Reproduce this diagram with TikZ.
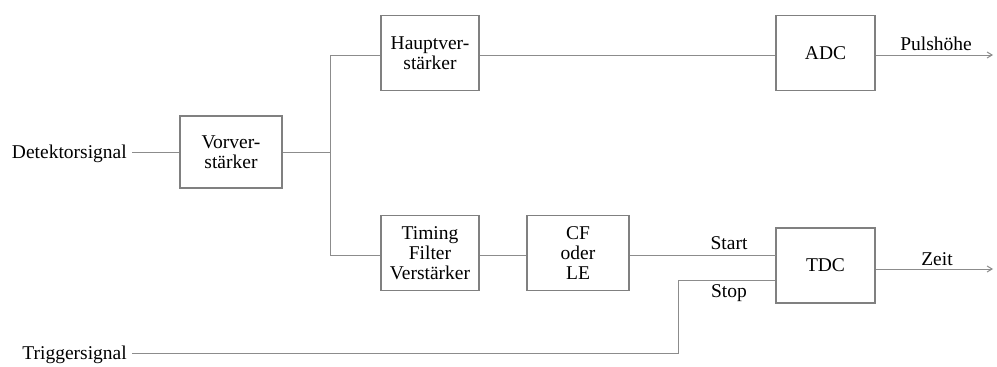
\documentclass[tikz,border=0pt]{standalone}
\usepackage{fontspec}
\setmainfont{Liberation Serif}
\usetikzlibrary{arrows.meta}
\begin{document}
\begin{tikzpicture}[x=1pt,y=-1pt,
  blk/.style={draw=black!50, line width=1.2pt, inner sep=0pt, align=center,
    font=\fontsize{19.5}{20}\selectfont},
  wire/.style={draw=black!45, line width=1pt},
  lbl/.style={font=\fontsize{19.5}{20}\selectfont, inner sep=0pt},
  outarrow/.style={wire, -{Straight Barb[length=5pt,width=6pt]}}]
\useasboundingbox (0,0) rectangle (997,367);
% boxes
\node[blk, minimum width=102pt, minimum height=72pt] (vor) at (231,152) {Vorver-\\stärker};
\node[blk, minimum width=98pt, minimum height=75pt] (haupt) at (430,53) {Hauptver-\\stärker};
\node[blk, minimum width=99pt, minimum height=75pt] (adc) at (825.5,53) {ADC};
\node[blk, minimum width=98pt, minimum height=75pt] (timing) at (430,253) {Timing\\Filter\\Verstärker};
\node[blk, minimum width=102pt, minimum height=75pt] (cf) at (578,253) {CF\\oder\\LE};
\node[blk, minimum width=99pt, minimum height=75pt] (tdc) at (825.5,265.5) {TDC};
% labels
\node[lbl, anchor=east] (det) at (127,154) {Detektorsignal};
\node[lbl, anchor=east] (trig) at (127,355) {Triggersignal};
\node[lbl] (puls) at (936,44) {Pulshöhe};
\node[lbl] (zeit) at (937,259) {Zeit};
\node[lbl] (start) at (729,243) {Start};
\node[lbl] (stop) at (729,293) {Stop};
% coordinates
\coordinate (detend) at (132,152);
\coordinate (trigend) at (132,353);
\coordinate (br) at (330,152);
\coordinate (bt) at (330,55);
\coordinate (bb) at (330,255);
\coordinate (stopc) at (678,280);
\coordinate (startc) at (776,255);
\coordinate (pend) at (993,55);
\coordinate (zend) at (993,269);
% wires
\draw[wire] (detend) -- (vor.west |- detend);
\draw[wire] (vor.east |- br) -- (br);
\draw[wire] (haupt.west |- bt) -- (bt) -- (bb) -- (timing.west |- bb);
\draw[wire] (haupt.east |- bt) -- (adc.west |- bt);
\draw[wire] (timing.east |- bb) -- (cf.west |- bb);
\draw[wire] (cf.east |- startc) -- (startc);
\draw[wire] (trigend) -| (stopc) -- (tdc.west |- stopc);
\draw[outarrow] (adc.east |- pend) -- (pend);
\draw[outarrow] (tdc.east |- zend) -- (zend);
\end{tikzpicture}
\end{document}
